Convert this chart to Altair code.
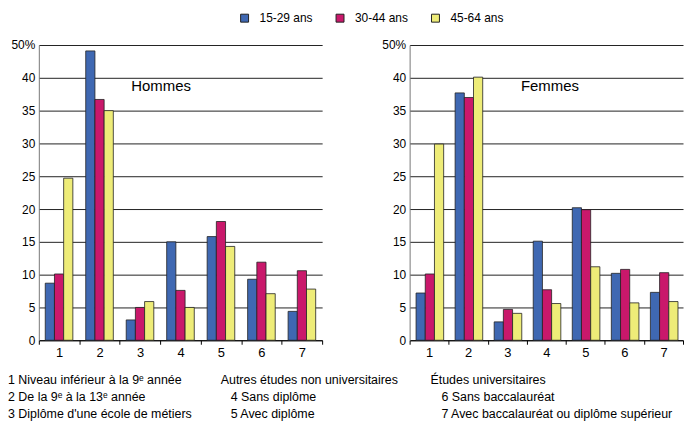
import altair as alt
import pandas as pd

categories = ["1", "2", "3", "4", "5", "6", "7"]
groups = ["15-29 ans", "30-44 ans", "45-64 ans"]
colors = ["#3F68B2", "#C9186B", "#EEEC78"]

hommes_1529 = [8.7, 44.1, 3.1, 15.0, 15.8, 9.3, 4.4]
hommes_3044 = [10.1, 36.7, 5.0, 7.6, 18.1, 11.9, 10.6]
hommes_4564 = [24.7, 35.0, 5.9, 5.0, 14.3, 7.1, 7.8]
femmes_1529 = [7.2, 37.7, 2.8, 15.1, 20.2, 10.2, 7.3]
femmes_3044 = [10.1, 37.0, 4.7, 7.7, 19.9, 10.8, 10.3]
femmes_4564 = [29.9, 40.1, 4.1, 5.6, 11.2, 5.7, 5.9]

y_ticks = [0, 5, 10, 15, 20, 25, 30, 35, 40, 45]

notes_col1 = ["1 Niveau inférieur à la 9ᵉ année", "2 De la 9ᵉ à la 13ᵉ année", "3 Diplôme d'une école de métiers"]
notes_col2 = ["Autres études non universitaires", "4 Sans diplôme", "5 Avec diplôme"]
notes_col3 = ["Études universitaires", "6 Sans baccalauréat", "7 Avec baccalauréat ou diplôme supérieur"]

FONT = "Liberation Sans"


def make_df(series):
    rows = []
    for g, vals in zip(groups, series):
        for c, v in zip(categories, vals):
            rows.append({"cat": c, "group": g, "value": v})
    return pd.DataFrame(rows)


def panel(series, label, show_legend, width, text_x):
    df = make_df(series)
    legend = None
    if show_legend:
        legend = alt.Legend(
            title=None, orient="none", direction="horizontal",
            legendX=201, legendY=-33,
            symbolType="square", symbolSize=64,
            symbolStrokeColor="#222", symbolStrokeWidth=1,
            labelFontSize=12, labelFont=FONT, labelColor="#000",
            columnPadding=21, labelOffset=9,
        )
    bars = alt.Chart(df).mark_bar(stroke="#222", strokeWidth=0.8).encode(
        x=alt.X(
            "cat:N", sort=categories,
            scale=alt.Scale(paddingInner=0, paddingOuter=0),
            axis=alt.Axis(
                title=None, labelAngle=0, tickBand="extent", tickSize=4,
                labelPadding=2, domainColor="#000", tickColor="#000",
                labelFontSize=13, labelFont=FONT, labelColor="#000", grid=False,
            ),
        ),
        xOffset=alt.XOffset(
            "group:N", sort=groups,
            scale=alt.Scale(paddingInner=0, paddingOuter=0.7),
        ),
        y=alt.Y(
            "value:Q",
            scale=alt.Scale(domain=[0, 45], nice=False),
            axis=alt.Axis(
                values=y_ticks,
                labelExpr="datum.value == 45 ? '50%' : datum.label",
                title=None, ticks=False, grid=True, gridColor="#222",
                gridWidth=1, domainColor="#777", labelPadding=4,
                labelFontSize=12, labelFont=FONT, labelColor="#000",
            ),
        ),
        color=alt.Color(
            "group:N", sort=groups,
            scale=alt.Scale(domain=groups, range=colors),
            legend=legend,
        ),
    )
    txt = alt.Chart(pd.DataFrame({"t": [label]})).mark_text(
        align="left", baseline="middle", fontSize=15, font=FONT, color="#000"
    ).encode(
        text="t:N",
        x=alt.value(text_x),
        y=alt.value(41),
    )
    return alt.layer(bars, txt).properties(width=width, height=297)


left = panel([hommes_1529, hommes_3044, hommes_4564], "Hommes", True, 285, 93)
right = panel([femmes_1529, femmes_3044, femmes_4564], "Femmes", False, 275, 112)

top = alt.hconcat(left, right, spacing=58)

note_layers = []
col_x = [(-31, -31, -31), (183, 193, 193), (394, 405, 405)]
line_y = [13, 30.5, 47]
for ci, col in enumerate([notes_col1, notes_col2, notes_col3]):
    for li, line in enumerate(col):
        note_layers.append(
            alt.Chart(pd.DataFrame({"t": [line]})).mark_text(
                align="left", baseline="middle", fontSize=12.5, font=FONT, color="#000"
            ).encode(
                text="t:N",
                x=alt.value(col_x[ci][li]),
                y=alt.value(line_y[li]),
            )
        )
notes = alt.layer(*note_layers).properties(width=500, height=40)

chart = alt.vconcat(top, notes, spacing=8).properties(
    padding={"left": 0, "top": 3, "right": 0, "bottom": 0}
).configure_view(stroke=None)

chart.save("out.html", embed_options={"renderer": "svg", "actions": False})
